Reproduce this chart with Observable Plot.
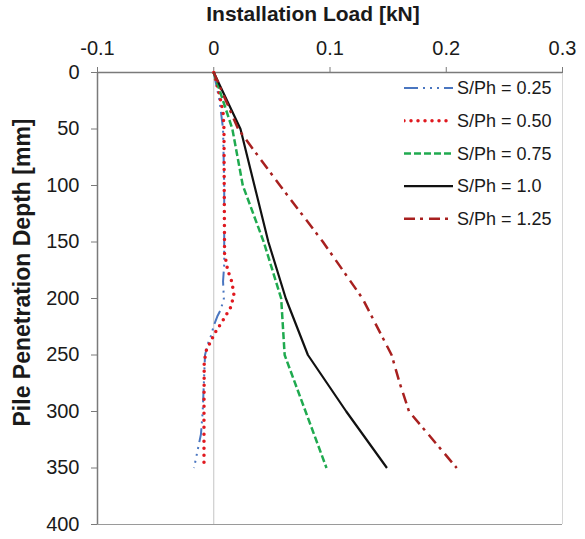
<!DOCTYPE html>
<html>
<head>
<meta charset="utf-8">
<script src="https://cdn.jsdelivr.net/npm/d3@7"></script>
<script src="https://cdn.jsdelivr.net/npm/@observablehq/plot@0.6"></script>
<style>
  body { margin: 0; background: #fff; }
  #chart { position: relative; width: 585px; height: 539px; font-family: "Liberation Sans", Arial, sans-serif; }
  #legend { position: absolute; left: 404px; top: 70px; }
</style>
</head>
<body>
<div id="chart"></div>
<script>
// Installation load vs. pile penetration depth for five spacing ratios S/Ph
const xTicks = [-0.1, 0, 0.1, 0.2, 0.3];
const yTicks = [0, 50, 100, 150, 200, 250, 300, 350, 400];

const depth025 = [0, 25, 50, 100, 150, 170, 185, 200, 210, 216, 224, 232, 240, 250, 275, 300, 320, 335, 350];
const load025  = [0, 0.005, 0.008, 0.009, 0.009, 0.009, 0.008, 0.0087, 0.006, 0.003, 0.0, -0.002, -0.005, -0.0075, -0.0085, -0.0095, -0.011, -0.014, -0.017];

const depth050 = [0, 20, 35, 50, 100, 160, 175, 185, 196, 207, 217, 231, 246, 256, 300, 350];
const load050  = [0, 0.005, 0.008, 0.0088, 0.009, 0.0093, 0.012, 0.0155, 0.0173, 0.015, 0.0093, 0.0007, -0.0064, -0.0082, -0.0084, -0.0084];

const depthMain = [0, 50, 100, 150, 200, 250, 300, 350];
const load075 = [0, 0.016, 0.025, 0.043, 0.058, 0.061, 0.079, 0.097];
const load100 = [0, 0.023, 0.035, 0.047, 0.062, 0.081, 0.114, 0.149];
const depth125 = [0, 50, 100, 150, 200, 250, 275, 300, 350];
const load125 = [0, 0.021, 0.057, 0.094, 0.128, 0.153, 0.160, 0.168, 0.209];

const seriesNames = ["S/Ph = 0.25", "S/Ph = 0.50", "S/Ph = 0.75", "S/Ph = 1.0", "S/Ph = 1.25"];
const styles = [
  {stroke: "#4a76c0", strokeWidth: 2, strokeDasharray: "14,5,2,5,2,5,2,5", strokeLinecap: "butt"},
  {stroke: "#e0191f", strokeWidth: 3.5, strokeDasharray: "0,7", strokeLinecap: "round"},
  {stroke: "#1faa4f", strokeWidth: 2.5, strokeDasharray: "7,3", strokeLinecap: "butt"},
  {stroke: "#111111", strokeWidth: 2.2, strokeDasharray: null, strokeLinecap: "butt"},
  {stroke: "#a8201f", strokeWidth: 2.5, strokeDasharray: "11,5,3,6", strokeLinecap: "butt"}
];

const toRows = (depths, loads) => depths.map((d, i) => ({depth: d, load: loads[i]}));
const series = [
  toRows(depth025, load025),
  toRows(depth050, load050),
  toRows(depthMain, load075),
  toRows(depthMain, load100),
  toRows(depth125, load125)
];

const fmt = d => String(+d.toFixed(1));

const chart = Plot.plot({
  width: 585,
  height: 539,
  marginTop: 72,
  marginLeft: 97,
  marginRight: 23,
  marginBottom: 15,
  style: {fontFamily: "Liberation Sans, Arial, sans-serif", background: "#fff", color: "#000"},
  x: {domain: [-0.1, 0.3]},
  y: {domain: [0, 400], reverse: true},
  marks: [
    // zero reference line and plot-area border
    Plot.ruleX([0], {stroke: "#c4c4c4", strokeWidth: 1}),
    Plot.ruleX([0.3], {stroke: "#d6d6d6", strokeWidth: 1}),
    Plot.ruleY([400], {stroke: "#9a9a9a", strokeWidth: 1.2}),
    Plot.ruleY([0], {stroke: "#7a7a7a", strokeWidth: 1.5}),
    Plot.ruleX([-0.1], {stroke: "#7a7a7a", strokeWidth: 1.5}),
    Plot.axisX({anchor: "top", ticks: xTicks, tickFormat: fmt, tickSize: 6, tickPadding: 12,
      fontSize: 20, stroke: "#7a7a7a", fill: "#1a1a1a", label: null}),
    Plot.axisY({anchor: "left", ticks: yTicks, tickFormat: d => String(d), tickSize: 6, tickPadding: 12,
      fontSize: 20, stroke: "#7a7a7a", fill: "#1a1a1a", label: null}),
    // data series
    ...series.map((rows, i) => Plot.line(rows, {
      x: "load", y: "depth", sort: null,
      stroke: styles[i].stroke, strokeWidth: styles[i].strokeWidth,
      strokeDasharray: styles[i].strokeDasharray, strokeLinecap: styles[i].strokeLinecap,
      strokeLinejoin: "round"
    })),
    // axis titles
    Plot.text(["Installation Load [kN]"], {frameAnchor: "top", dx: -17, dy: -66,
      fontSize: 21, fontWeight: "bold", fill: "#1a1a1a"}),
    Plot.text(["Pile Penetration Depth [mm]"], {frameAnchor: "left", textAnchor: "middle",
      dx: -75, dy: -26, rotate: -90, fontSize: 23, fontWeight: "bold", fill: "#1a1a1a"})
  ]
});

const container = document.getElementById("chart");
container.appendChild(chart);

// legend box in the upper right of the plot area
const rowGap = 32.7;
const legend = d3.select(container).append("svg")
  .attr("id", "legend")
  .attr("width", 170)
  .attr("height", 170);
seriesNames.forEach((name, i) => {
  const y = 18 + i * rowGap;
  const s = styles[i];
  legend.append("line")
    .attr("x1", 0).attr("x2", 49).attr("y1", y).attr("y2", y)
    .attr("stroke", s.stroke).attr("stroke-width", s.strokeWidth)
    .attr("stroke-dasharray", s.strokeDasharray)
    .attr("stroke-linecap", s.strokeLinecap);
  legend.append("text")
    .attr("x", 53).attr("y", y).attr("dy", "0.35em")
    .attr("font-family", "Liberation Sans, Arial, sans-serif")
    .attr("font-size", 18).attr("fill", "#1a1a1a")
    .text(name);
});
</script>
</body>
</html>
